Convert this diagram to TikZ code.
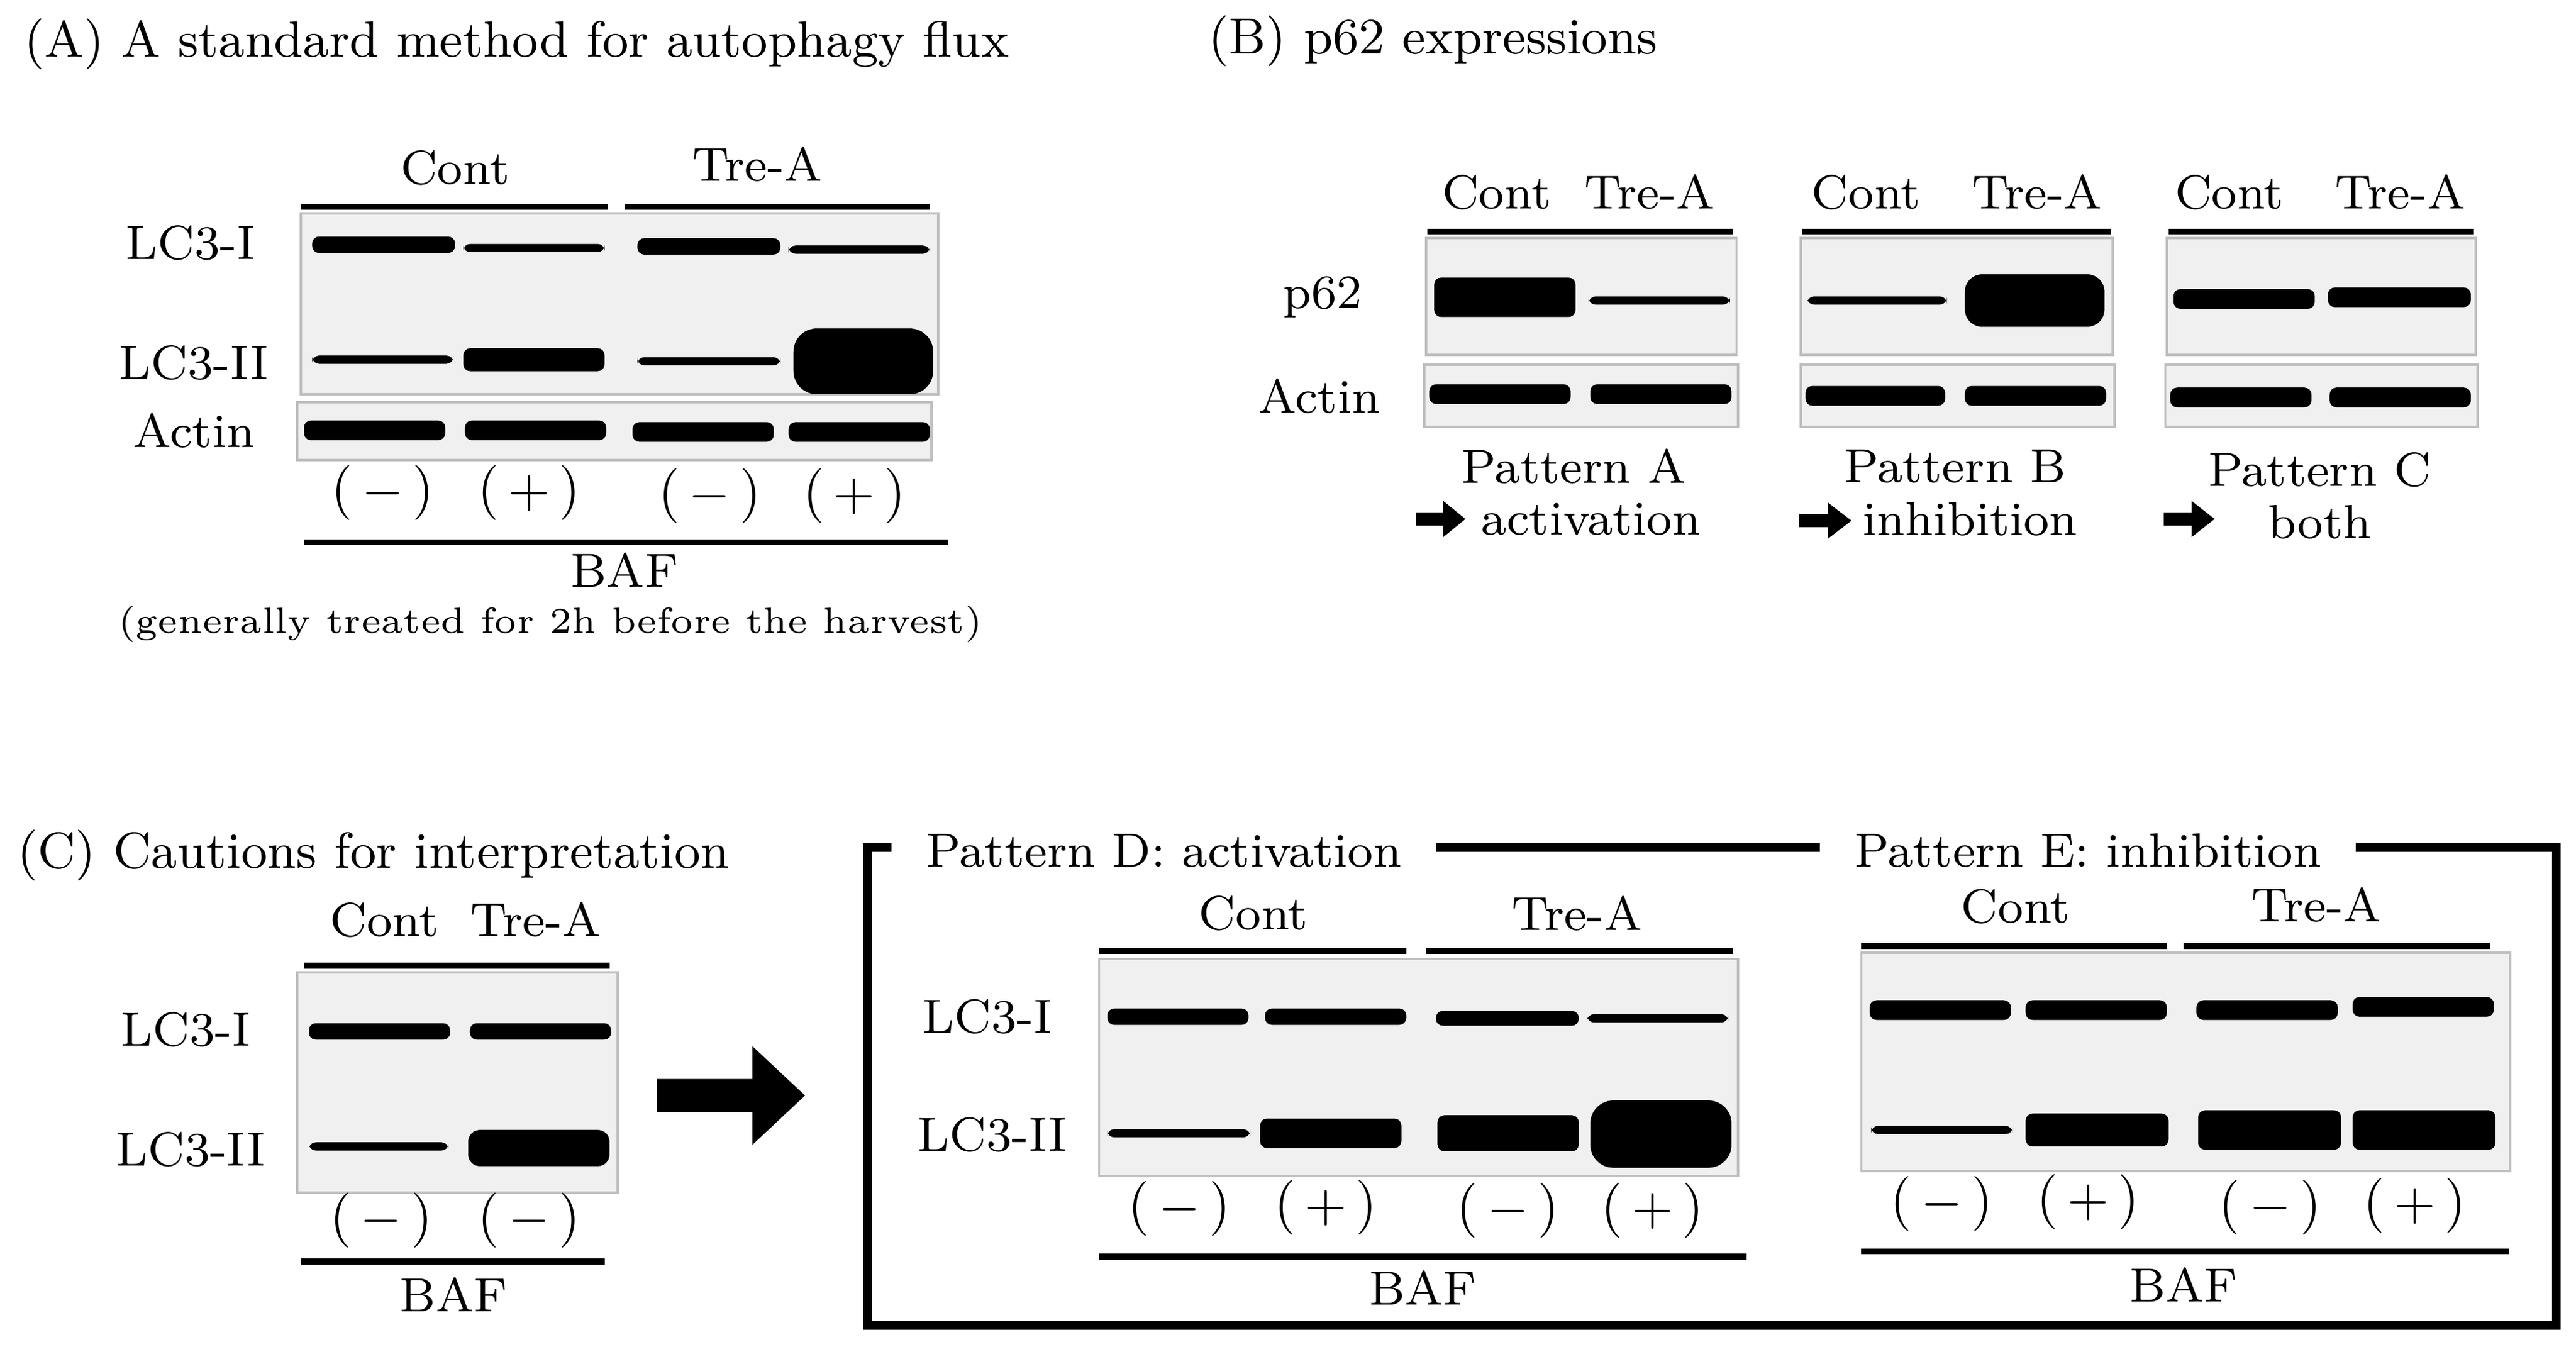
\documentclass[tikz,border=0pt]{standalone}
\begin{document}
\begin{tikzpicture}[x=0.01cm,y=-0.01cm,
  t/.style={font=\fontsize{8.3}{10}\selectfont,inner sep=0pt},
  tl/.style={t,anchor=west},
  pm/.style={font=\fontsize{9.5}{11}\selectfont,inner sep=0pt},
  gel/.style={fill=black!6,draw=black!25,line width=0.4pt},
  ul/.style={line width=1pt}]
\useasboundingbox (0,0) rectangle (1568,820);
\newcommand\bnd[4]{\fill[rounded corners=1.2pt] (#1,#3-#4/2) rectangle (#2,#3+#4/2);}
\newcommand\fatarrow[3]{\fill (#1,#3-4) -- (#1+0.55*#2,#3-4) -- (#1+0.55*#2,#3-11) -- (#1+#2,#3) -- (#1+0.55*#2,#3+11) -- (#1+0.55*#2,#3+4) -- (#1,#3+4) -- cycle;}
% ---------- Panel A
\node[tl,font=\fontsize{8.8}{10}\selectfont] (ta) at (14,27) {(A) A standard method for autophagy flux};
\node[t] (a1) at (277,102) {Cont};
\node[t] (a2) at (461,100) {Tre-A};
\draw[ul] (183,126) -- (370,126); \draw[ul] (380,126) -- (566,126);
\draw[gel] (183,130) rectangle (571,240);
\draw[gel] (181,245) rectangle (567,280);
\node[t] (a3) at (116,148) {LC3-I};
\node[t] (a4) at (118,221) {LC3-II};
\node[t] (a5) at (118,262) {Actin};
\bnd{190}{277}{149}{10}\bnd{282}{368}{151}{5}\bnd{388}{475}{150}{10}\bnd{480}{566}{152}{5}
\bnd{190}{276}{219}{5}\bnd{282}{368}{219}{14}\bnd{388}{475}{220}{5}
\fill[rounded corners=4pt] (483,200) rectangle (568,240);
\bnd{185}{271}{262}{12}\bnd{283}{369}{262}{12}\bnd{385}{471}{263}{12}\bnd{480}{566}{263}{12}
\node[pm] (a6) at (233,300) {(\,$-$\,)};
\node[pm] (a7) at (322,300) {(\,$+$\,)};
\node[pm] (a8) at (432,302) {(\,$-$\,)};
\node[pm] (a9) at (520,302) {(\,$+$\,)};
\draw[ul] (185,330) -- (577,330);
\node[t] (a10) at (380,347) {BAF};
\node[t,font=\fontsize{6.3}{8}\selectfont] (a11) at (335,380) {(generally treated for 2h before the harvest)};
% ---------- Panel B
\node[tl,font=\fontsize{8.8}{10}\selectfont] (tb) at (735,25) {(B) p62 expressions};
\node[t] (b0) at (805,181) {p62};
\node[t] (b00) at (803,241) {Actin};
% group 1
\node[t] (b1) at (911,117) {Cont}; \node[t] (b2) at (1004,117) {Tre-A};
\draw[ul] (869,141) -- (1055,141);
\draw[gel] (868,145) rectangle (1057,216);
\draw[gel] (867,222) rectangle (1058,260);
\bnd{873}{959}{181}{24}\bnd{967}{1053}{183}{5}
\bnd{870}{956}{240}{12}\bnd{968}{1054}{240}{12}
\node[t] (b3) at (958,284) {Pattern A};
\fatarrow{862}{30}{316}
\node[tl] (b4) at (901,316) {activation};
% group 2
\node[t] (b5) at (1136,117) {Cont}; \node[t] (b6) at (1240,117) {Tre-A};
\draw[ul] (1097,141) -- (1285,141);
\draw[gel] (1096,145) rectangle (1286,216);
\draw[gel] (1096,222) rectangle (1287,260);
\bnd{1100}{1185}{183}{5}
\fill[rounded corners=3pt] (1196,167) rectangle (1281,199);
\bnd{1099}{1184}{241}{12}\bnd{1196}{1282}{241}{12}
\node[t] (b7) at (1190,284) {Pattern B};
\fatarrow{1095}{32}{317}
\node[tl] (b8) at (1133,316) {inhibition};
% group 3
\node[t] (b9) at (1357,117) {Cont}; \node[t] (b10) at (1461,117) {Tre-A};
\draw[ul] (1320,141) -- (1506,141);
\draw[gel] (1319,145) rectangle (1507,216);
\draw[gel] (1318,222) rectangle (1508,260);
\bnd{1323}{1409}{182}{12}\bnd{1417}{1504}{181}{12}
\bnd{1321}{1407}{242}{12}\bnd{1418}{1504}{242}{12}
\node[t] (b11) at (1412,286) {Pattern C};
\fatarrow{1317}{31}{316}
\node[t] (b12) at (1412,318) {both};
% ---------- Panel C
\node[tl,font=\fontsize{8.8}{10}\selectfont] (tc) at (10,521) {(C) Cautions for interpretation};
\node[t] (c1) at (234,560) {Cont}; \node[t] (c2) at (326,560) {Tre-A};
\draw[ul] (185,588) -- (371,588);
\draw[gel] (181,592) rectangle (376,726);
\node[t] (c3) at (113,627) {LC3-I};
\node[t] (c4) at (116,700) {LC3-II};
\bnd{188}{274}{628}{10}\bnd{286}{372}{628}{10}
\bnd{188}{273}{698}{5}
\fill[rounded corners=2pt] (285,688) rectangle (371,710);
\node[pm] (c5) at (232,743) {(\,$-$\,)};
\node[pm] (c6) at (322,743) {(\,$-$\,)};
\draw[ul] (183,768) -- (368,768);
\node[t] (c7) at (276,788) {BAF};
\fill (400,657) -- (458,657) -- (458,637) -- (490,667) -- (458,697) -- (458,677) -- (400,677) -- cycle;
% frame
\draw[line width=1.5pt] (528,516) rectangle (1556,807);
\node[tl,fill=white,inner xsep=6pt,inner ysep=2pt] (fd) at (542,518) {Pattern D: activation};
\node[tl,fill=white,inner xsep=6pt,inner ysep=2pt] (fe) at (1107,518) {Pattern E: inhibition};
% pattern D
\node[t] (d1) at (763,556) {Cont}; \node[t] (d2) at (960,556) {Tre-A};
\draw[ul] (669,579) -- (856,579); \draw[ul] (868,579) -- (1055,579);
\draw[gel] (669,584) rectangle (1058,716);
\node[t] (d3) at (601,619) {LC3-I};
\node[t] (d4) at (604,691) {LC3-II};
\bnd{674}{760}{619}{10}\bnd{770}{856}{619}{10}\bnd{874}{961}{620}{9}\bnd{966}{1052}{620}{5}
\bnd{674}{761}{690}{5}\bnd{767}{853}{690}{18}\bnd{875}{961}{690}{22}
\fill[rounded corners=4pt] (968,670) rectangle (1054,711);
\node[pm] (d5) at (718,736) {(\,$-$\,)};
\node[pm] (d6) at (807,735) {(\,$+$\,)};
\node[pm] (d7) at (918,737) {(\,$-$\,)};
\node[pm] (d8) at (1006,737) {(\,$+$\,)};
\draw[ul] (669,765) -- (1063,765);
\node[t] (d9) at (866,784) {BAF};
% pattern E
\node[t] (e1) at (1227,552) {Cont}; \node[t] (e2) at (1410,551) {Tre-A};
\draw[ul] (1133,576) -- (1319,576); \draw[ul] (1329,576) -- (1516,576);
\draw[gel] (1133,580) rectangle (1528,713);
\bnd{1138}{1224}{615}{12}\bnd{1233}{1319}{615}{12}\bnd{1337}{1423}{615}{12}\bnd{1432}{1518}{613}{12}
\bnd{1139}{1225}{688}{5}\bnd{1233}{1320}{688}{20}\bnd{1338}{1425}{688}{24}\bnd{1432}{1519}{688}{24}
\node[pm] (e3) at (1182,733) {(\,$-$\,)};
\node[pm] (e4) at (1271,732) {(\,$+$\,)};
\node[pm] (e5) at (1382,735) {(\,$-$\,)};
\node[pm] (e6) at (1470,734) {(\,$+$\,)};
\draw[ul] (1133,762) -- (1527,762);
\node[t] (e7) at (1329,782) {BAF};
\end{tikzpicture}
\end{document}
